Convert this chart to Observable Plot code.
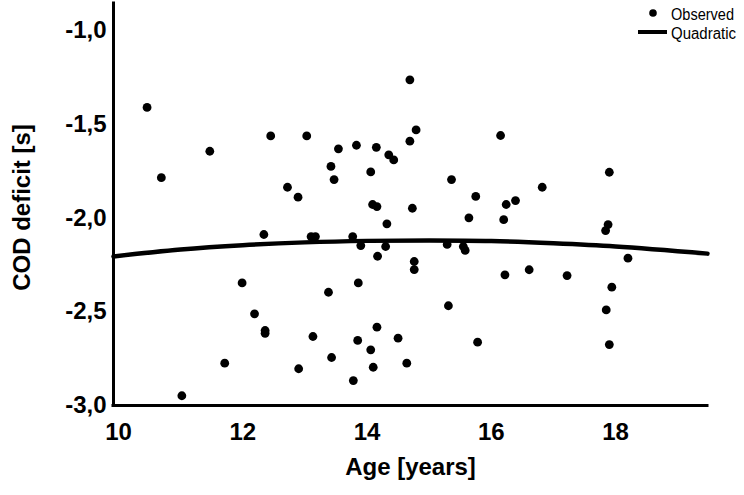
<!DOCTYPE html>
<html><head><meta charset="utf-8">
<script src="https://cdn.jsdelivr.net/npm/d3@7"></script>
<script src="https://cdn.jsdelivr.net/npm/@observablehq/plot@0.6"></script>
<style>
body{margin:0;background:#fff;}
#chart{width:744px;height:495px;}
</style></head><body><div id="chart"></div>
<script>
// Observed points: age (years) and COD deficit (s)
const age = [10.46,10.69,11.47,12.45,13.03,12.72,12.89,12.34,13.10,13.17,
  14.69,14.79,14.69,16.15,13.54,13.83,14.15,14.35,14.43,13.42,
  13.47,14.06,15.36,15.75,16.39,16.24,14.09,14.16,14.73,15.64,
  16.20,14.32,13.77,17.90,16.82,17.88,17.84,11.99,12.19,12.36,
  12.36,13.13,11.71,12.90,11.02,13.90,14.30,15.29,15.55,15.58,
  14.17,14.76,14.76,16.22,13.86,13.38,15.31,14.16,13.85,14.50,
  15.78,14.06,13.43,14.10,14.64,13.78,16.61,17.22,18.20,17.94,
  17.85,17.90];
const deficit = [-1.41,-1.785,-1.644,-1.562,-1.562,-1.836,-1.889,-2.088,-2.099,-2.099,
  -1.263,-1.530,-1.59,-1.56,-1.631,-1.612,-1.623,-1.663,-1.690,-1.725,
  -1.795,-1.754,-1.795,-1.885,-1.907,-1.928,-1.928,-1.939,-1.948,-1.999,
  -2.009,-2.031,-2.099,-1.756,-1.836,-2.035,-2.067,-2.346,-2.511,-2.60,
  -2.615,-2.632,-2.774,-2.804,-2.948,-2.147,-2.152,-2.141,-2.152,-2.173,
  -2.204,-2.232,-2.275,-2.303,-2.346,-2.396,-2.468,-2.582,-2.653,-2.641,
  -2.662,-2.703,-2.744,-2.796,-2.774,-2.867,-2.276,-2.307,-2.214,-2.369,
  -2.490,-2.675];
// Quadratic fit curve
const curveAge = [9.92,11,12,13,14,15,16,17,18,19.48];
const curveDeficit = [-2.205,-2.168,-2.145,-2.13,-2.122,-2.12,-2.123,-2.135,-2.152,-2.19];
const xTicks = [10,12,14,16,18];
const yTicks = [-3,-2.5,-2,-1.5,-1];
const xTitle = "Age [years]";
const yTitle = "COD deficit [s]";
const legendLabels = ["Observed","Quadratic"];

const points = age.map((a,i)=>({age:a, deficit:deficit[i]}));
const curve = curveAge.map((a,i)=>({age:a, deficit:curveDeficit[i]}));
const xDomain = [9.92, 19.48];
const yDomain = [-3, -0.856];
const FONT = "'Liberation Sans', Arial, sans-serif";

const plot = Plot.plot({
  width: 744, height: 495,
  marginLeft: 113, marginRight: 37, marginTop: 3, marginBottom: 90,
  style: {fontFamily: FONT, fontSize: "24px", fontWeight: "bold", color: "#000", background: "#fff"},
  x: {domain: xDomain},
  y: {domain: yDomain},
  marks: [
    Plot.axisX({ticks: xTicks, tickSize: 0, tickPadding: 17, tickFormat: d => String(d), label: null, fontSize: 24, fontWeight: "bold", fill: "#000"}),
    Plot.axisY({ticks: yTicks, tickSize: 0, tickPadding: 7, tickFormat: d => d.toFixed(1).replace(".", ","), label: null, fontSize: 24, fontWeight: "bold", fill: "#000"}),
    Plot.ruleX([xDomain[0]], {stroke: "#000", strokeWidth: 3, strokeLinecap: "square"}),
    Plot.ruleY([yDomain[0]], {stroke: "#000", strokeWidth: 3, strokeLinecap: "square"}),
    Plot.line(curve, {x: "age", y: "deficit", stroke: "#000", strokeWidth: 4.5, curve: "catmull-rom"}),
    Plot.dot(points, {x: "age", y: "deficit", r: 4.4, fill: "#000", stroke: "none"}),
    Plot.text([xTitle], {frameAnchor: "bottom", dy: 62, lineAnchor: "middle", textAnchor: "middle", fontSize: 24, fontWeight: "bold", fill: "#000"}),
    Plot.text([yTitle], {frameAnchor: "left", dx: -91, dy: 3, rotate: -90, lineAnchor: "middle", textAnchor: "middle", fontSize: 24, fontWeight: "bold", fill: "#000"})
  ]
});
document.getElementById("chart").appendChild(plot);

// Legend (top right)
const svg = d3.select(plot);
const lg = svg.append("g")
  .attr("font-family", "'Liberation Sans', Arial, sans-serif")
  .attr("font-size", 16).attr("font-weight", "normal").attr("text-anchor", "start");
lg.append("circle").attr("cx", 653).attr("cy", 13).attr("r", 3.8).attr("fill", "#000");
lg.append("line").attr("x1", 638).attr("x2", 667).attr("y1", 32).attr("y2", 32).attr("stroke", "#000").attr("stroke-width", 4);
lg.append("text").attr("x", 671).attr("y", 14).attr("dy", "0.35em").attr("fill", "#000")
  .attr("textLength", 63).attr("lengthAdjust", "spacingAndGlyphs").text(legendLabels[0]);
lg.append("text").attr("x", 671).attr("y", 33).attr("dy", "0.35em").attr("fill", "#000")
  .attr("textLength", 65).attr("lengthAdjust", "spacingAndGlyphs").text(legendLabels[1]);
</script></body></html>
